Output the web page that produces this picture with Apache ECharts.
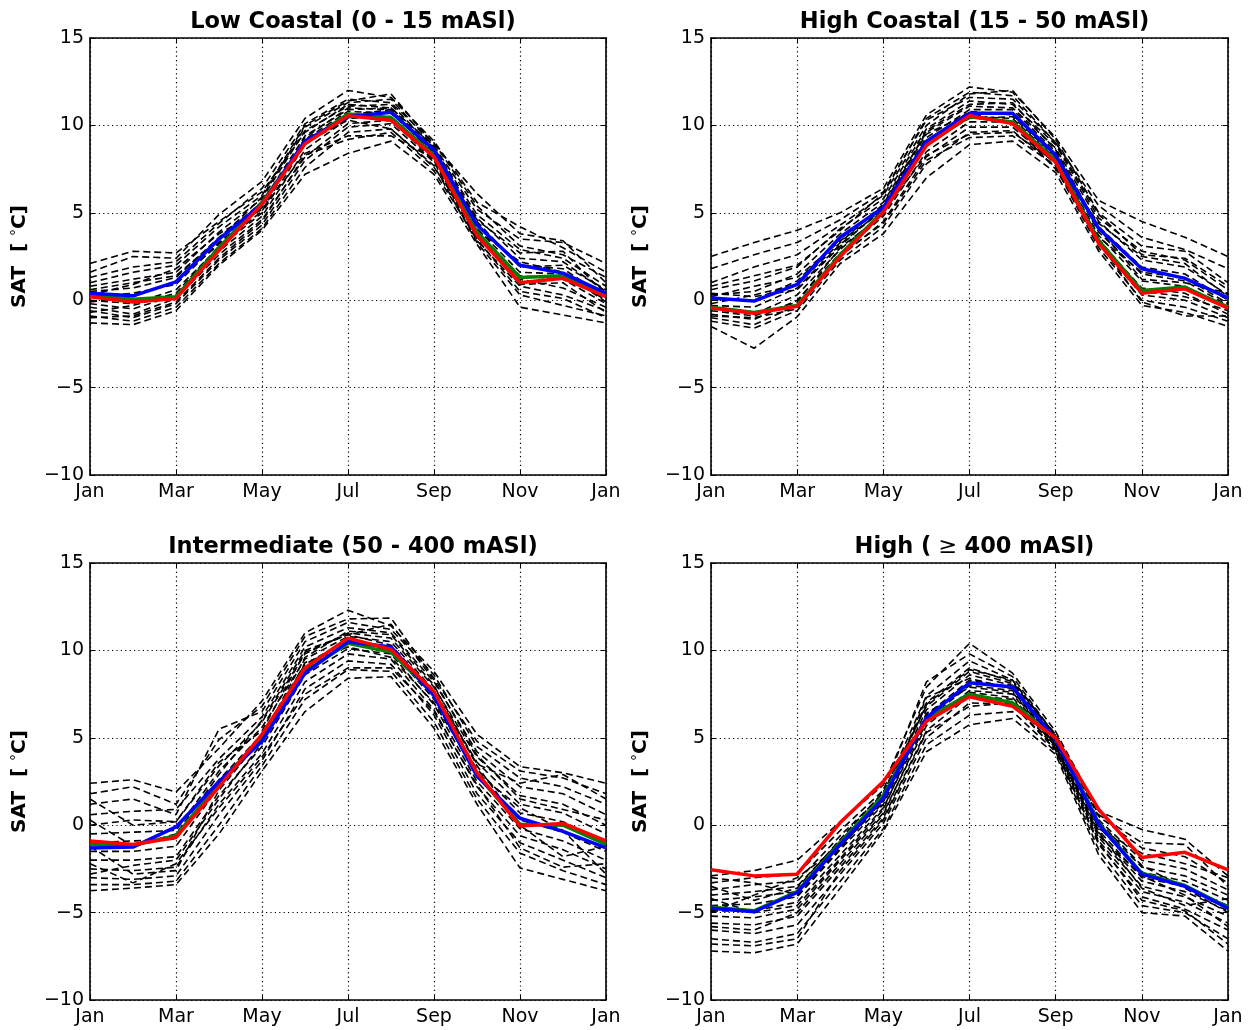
<!DOCTYPE html>
<html>
<head>
<meta charset="utf-8">
<script src="https://cdn.jsdelivr.net/npm/echarts@6/dist/echarts.min.js"></script>
<style>
  html, body { margin: 0; padding: 0; background: #ffffff; }
  #chart { width: 1256px; height: 1030px; }
</style>
</head>
<body>
<div id="chart"></div>
<script>
// Month labels for the annual cycle (January repeated to close the year)
const MONTHS = ['Jan', 'Feb', 'Mar', 'Apr', 'May', 'Jun', 'Jul', 'Aug', 'Sep', 'Oct', 'Nov', 'Dec', 'Jan'];
const Y_MIN = -10, Y_MAX = 15, Y_STEP = 5;

const PANEL_TITLES = [
  'Low Coastal (0 - 15 mASl)',
  'High Coastal (15 - 50 mASl)',
  'Intermediate (50 - 400 mASl)',
  'High ( ≥ 400 mASl)'
];

// ---------- Low Coastal (0 - 15 mASl) ----------
const lowCoastalMembers = [
  [2.1, 2.8, 2.7, 4.5, 6.2, 9.6, 11.2, 11.0, 8.8, 5.2, 3.5, 3.3, 2.1],
  [1.6, 2.5, 2.4, 4.9, 6.8, 10.4, 12.0, 11.6, 9.1, 5.6, 4.2, 3.0, 1.6],
  [1.0, 1.6, 2.0, 4.2, 6.0, 10.0, 11.4, 11.8, 8.9, 6.1, 3.8, 3.4, 1.0],
  [0.8, 1.2, 1.6, 3.9, 5.8, 9.7, 11.1, 11.2, 8.7, 4.9, 2.9, 2.4, 0.8],
  [0.5, 0.7, 1.3, 3.6, 5.6, 9.4, 10.9, 11.0, 8.6, 4.7, 2.4, 2.2, 0.5],
  [0.2, 0.4, 0.9, 3.3, 5.3, 9.2, 10.8, 10.7, 8.5, 4.4, 2.0, 1.8, 0.2],
  [0.0, -0.2, 0.6, 3.0, 5.0, 8.9, 10.6, 10.9, 8.3, 4.1, 1.6, 1.5, 0.0],
  [-0.2, -0.5, 0.3, 2.8, 4.8, 8.6, 10.4, 10.5, 8.2, 3.9, 1.4, 1.2, -0.2],
  [-0.4, -0.8, 0.1, 2.6, 4.6, 8.2, 10.1, 10.3, 8.0, 3.6, 1.2, 0.7, -0.4],
  [-0.6, -1.0, -0.2, 2.3, 4.3, 8.0, 9.9, 10.1, 7.9, 3.4, 0.8, 0.3, -0.6],
  [-0.9, -1.2, -0.4, 2.1, 4.1, 7.6, 9.6, 9.8, 7.7, 3.3, 0.3, -0.3, -0.9],
  [-1.3, -1.4, -0.6, 2.0, 4.0, 7.2, 8.4, 9.1, 7.2, 3.2, -0.4, -0.85, -1.3],
  [0.3, 0.9, 1.8, 3.8, 5.2, 8.4, 9.4, 9.4, 8.1, 4.6, 2.7, 2.8, 0.3],
  [-0.1, 0.2, 1.1, 3.2, 5.5, 9.0, 10.3, 9.8, 7.6, 4.0, 2.2, 1.6, -0.1],
  [1.3, 1.9, 2.2, 4.4, 6.4, 10.1, 11.5, 11.3, 9.0, 5.4, 3.1, 2.6, 1.3],
  [-0.7, -0.3, 0.4, 3.1, 5.1, 9.3, 11.0, 10.9, 8.4, 3.7, 0.9, 1.0, -0.7],
  [0.6, 1.0, 1.4, 3.5, 5.9, 9.9, 11.3, 11.5, 8.8, 4.5, 1.9, 2.0, 0.6],
  [-1.0, -0.9, -0.1, 2.4, 4.5, 8.3, 9.2, 9.6, 7.4, 3.5, 0.5, 0.1, -1.0]
];
const lowCoastalGreen = [0.3, 0.05, 0.2, 3.0, 5.6, 9.0, 10.65, 10.45, 8.3, 3.9, 1.3, 1.4, 0.3];
const lowCoastalBlue  = [0.4, 0.25, 1.05, 3.5, 5.5, 9.1, 10.5, 10.75, 8.6, 4.3, 2.0, 1.55, 0.4];
const lowCoastalRed   = [0.2, -0.1, 0.1, 2.85, 5.5, 8.95, 10.55, 10.3, 8.2, 3.7, 1.0, 1.25, 0.2];

// ---------- High Coastal (15 - 50 mASl) ----------
const highCoastalMembers = [
  [2.5, 3.3, 4.0, 5.0, 6.4, 10.6, 12.2, 11.9, 9.3, 5.7, 4.5, 3.6, 2.5],
  [1.8, 2.6, 3.3, 4.6, 6.2, 10.3, 11.6, 11.5, 9.0, 5.4, 3.6, 2.9, 1.8],
  [1.0, 1.9, 2.6, 4.3, 6.0, 10.0, 11.8, 12.0, 9.2, 5.0, 3.1, 2.8, 1.0],
  [0.6, 1.1, 1.9, 4.1, 5.8, 9.8, 11.4, 11.2, 8.9, 4.7, 2.8, 2.3, 0.6],
  [0.3, 0.5, 1.5, 3.8, 5.6, 9.6, 11.1, 11.0, 8.7, 4.5, 2.3, 1.9, 0.3],
  [0.0, 0.0, 1.1, 3.5, 5.4, 9.3, 10.9, 10.9, 8.5, 4.2, 1.9, 1.5, 0.0],
  [-0.3, -0.4, 0.7, 3.2, 5.2, 9.1, 10.8, 10.6, 8.3, 3.9, 1.5, 1.1, -0.3],
  [-0.5, -0.8, 0.3, 2.9, 5.0, 8.8, 10.5, 10.4, 8.1, 3.7, 1.1, 0.8, -0.5],
  [-0.8, -1.1, 0.0, 2.7, 4.8, 8.5, 10.2, 10.2, 8.0, 3.4, 0.7, 0.4, -0.8],
  [-1.0, -1.4, -0.3, 2.5, 4.5, 8.2, 9.9, 9.9, 7.8, 3.2, 0.3, 0.0, -1.0],
  [-1.2, -1.6, -0.6, 2.3, 4.2, 7.8, 9.6, 9.7, 7.6, 3.0, 0.0, -0.4, -1.2],
  [-1.5, -2.75, -0.95, 2.1, 3.8, 7.0, 8.9, 9.1, 7.3, 2.8, -0.3, -0.7, -1.5],
  [0.2, 0.8, 1.3, 3.4, 5.1, 8.3, 9.5, 9.6, 7.9, 4.4, 2.5, 2.1, 0.2],
  [-0.2, 0.3, 0.9, 3.3, 5.5, 9.5, 10.7, 10.1, 7.5, 3.6, 1.6, 1.3, -0.2],
  [0.8, 1.4, 2.0, 4.0, 6.1, 10.4, 11.9, 11.7, 9.0, 4.9, 2.6, 2.4, 0.8],
  [-0.6, -0.9, -0.1, 3.0, 4.9, 9.0, 10.4, 10.5, 8.2, 3.5, 0.5, 0.2, -0.6],
  [0.4, 0.2, 0.6, 3.1, 5.3, 9.7, 11.2, 11.3, 8.6, 4.1, 1.2, 1.0, 0.4],
  [-0.9, -1.0, -0.5, 2.6, 4.4, 8.0, 9.3, 9.4, 7.7, 3.3, -0.1, -0.9, -0.9]
];
const highCoastalGreen = [-0.4, -0.7, -0.3, 2.6, 5.1, 8.95, 10.5, 10.2, 8.0, 3.4, 0.55, 0.75, -0.4];
const highCoastalBlue  = [0.13, -0.05, 0.9, 3.6, 5.3, 9.1, 10.7, 10.7, 8.3, 4.1, 1.8, 1.25, 0.13];
const highCoastalRed   = [-0.45, -0.75, -0.35, 2.5, 5.05, 8.85, 10.55, 10.1, 7.9, 3.25, 0.4, 0.65, -0.45];

// ---------- Intermediate (50 - 400 mASl) ----------
const intermediateMembers = [
  [2.4, 2.6, 1.9, 4.4, 7.1, 11.0, 12.3, 11.4, 8.8, 5.2, 3.35, 3.0, 2.4],
  [1.8, 2.2, 1.2, 4.9, 6.8, 10.8, 11.8, 11.85, 8.4, 4.8, 3.1, 2.7, 1.8],
  [1.2, 1.5, 0.6, 5.5, 6.5, 10.5, 11.6, 11.2, 8.6, 4.5, 2.7, 2.2, 1.2],
  [0.6, 0.8, 0.9, 3.8, 6.2, 10.2, 11.3, 11.0, 8.2, 4.2, 2.2, 1.8, 0.6],
  [0.0, 0.3, 0.2, 3.4, 5.9, 9.8, 11.0, 10.7, 7.9, 3.9, 1.7, 1.2, 0.0],
  [-0.5, -0.4, -0.3, 3.1, 5.6, 9.5, 10.8, 10.5, 7.7, 3.6, 1.2, 0.7, -0.5],
  [-1.0, -0.9, -0.8, 2.6, 5.2, 9.2, 10.6, 10.2, 7.4, 3.2, 0.7, 0.2, -1.0],
  [-1.5, -1.5, -1.2, 2.2, 4.9, 8.9, 10.4, 10.0, 7.2, 2.8, 0.3, -0.4, -1.5],
  [-2.0, -2.0, -1.8, 1.7, 4.5, 8.6, 10.1, 9.8, 6.9, 2.5, -0.2, -0.9, -2.0],
  [-2.5, -2.6, -2.4, 1.2, 4.1, 8.2, 9.8, 9.5, 6.6, 2.2, -0.6, -1.4, -2.5],
  [-3.0, -3.1, -2.9, 0.6, 3.7, 7.8, 9.4, 9.2, 6.3, 1.8, -1.0, -2.0, -3.0],
  [-3.4, -3.4, -3.2, 0.0, 3.4, 7.2, 8.9, 8.8, 5.9, 1.5, -1.6, -2.6, -3.4],
  [-3.75, -3.6, -3.4, -0.5, 3.1, 6.5, 8.4, 8.5, 5.55, 1.2, -2.45, -3.1, -3.75],
  [-2.8, -2.3, -2.0, 1.5, 4.7, 9.3, 10.2, 9.6, 7.0, 3.0, 1.0, -0.3, -2.8],
  [-1.2, -2.8, -2.6, 2.0, 5.0, 9.6, 11.1, 10.9, 8.0, 3.4, 0.0, -1.8, -1.2],
  [0.3, -1.2, -0.5, 2.9, 6.0, 10.0, 10.9, 11.5, 8.3, 4.0, 1.5, 0.9, 0.3],
  [-2.2, -3.3, -2.2, 1.0, 3.9, 7.5, 9.0, 9.0, 6.5, 2.3, -1.3, -2.4, -2.2],
  [1.5, 0.0, 0.2, 3.6, 5.4, 9.9, 10.9, 10.3, 7.6, 3.5, 2.4, 2.9, 1.5]
];
const intermediateGreen = [-1.1, -1.15, -0.6, 2.4, 5.0, 8.8, 10.4, 9.9, 7.5, 2.9, 0.05, 0.0, -1.1];
const intermediateBlue  = [-1.3, -1.25, -0.1, 2.5, 4.8, 8.7, 10.5, 10.2, 7.4, 2.8, 0.4, -0.35, -1.3];
const intermediateRed   = [-0.9, -1.1, -0.7, 2.2, 5.2, 9.0, 10.7, 10.05, 7.65, 3.0, -0.05, 0.1, -0.9];

// ---------- High (>= 400 mASl) ----------
const highMembers = [
  [-2.9, -2.6, -2.0, 0.2, 2.3, 7.9, 10.4, 8.7, 5.35, 0.8, -0.25, -0.8, -2.9],
  [-3.3, -3.0, -2.8, -0.3, 2.0, 8.2, 9.8, 8.5, 5.1, 0.5, -1.3, -1.8, -3.3],
  [-3.7, -3.4, -3.2, -0.6, 1.8, 7.4, 9.4, 8.3, 5.0, 0.3, -2.0, -2.5, -3.7],
  [-4.0, -3.8, -3.5, -0.9, 1.6, 7.0, 9.0, 8.2, 4.9, 0.1, -2.4, -2.9, -4.0],
  [-4.3, -4.1, -3.8, -1.1, 1.4, 6.6, 8.6, 8.0, 4.8, -0.1, -2.7, -3.2, -4.3],
  [-4.6, -4.5, -4.1, -1.4, 1.2, 6.3, 8.3, 7.9, 4.7, -0.3, -3.0, -3.5, -4.6],
  [-4.9, -4.9, -4.4, -1.7, 1.0, 6.0, 8.0, 7.7, 4.6, -0.5, -3.2, -3.8, -4.9],
  [-5.2, -5.3, -4.8, -2.0, 0.7, 5.7, 7.7, 7.5, 4.5, -0.7, -3.5, -4.1, -5.2],
  [-5.6, -5.7, -5.2, -2.4, 0.4, 5.4, 7.4, 7.2, 4.4, -0.9, -3.8, -4.4, -5.6],
  [-6.0, -6.2, -5.7, -2.8, 0.1, 5.0, 7.0, 6.9, 4.3, -1.1, -4.1, -4.8, -6.0],
  [-6.5, -6.7, -6.2, -3.2, -0.2, 4.6, 6.3, 6.5, 4.2, -1.4, -4.6, -5.0, -6.5],
  [-7.2, -7.3, -6.8, -3.6, -0.35, 4.2, 5.75, 6.1, 4.05, -1.7, -5.0, -5.2, -7.2],
  [-3.5, -4.3, -3.6, -0.8, 1.9, 6.8, 8.8, 8.1, 5.2, 0.6, -1.0, -1.1, -3.5],
  [-5.0, -4.0, -3.0, -1.2, 1.3, 7.3, 8.4, 7.8, 4.7, 0.2, -2.3, -3.6, -5.0],
  [-4.2, -5.0, -4.6, -1.9, 0.9, 6.4, 7.9, 7.6, 4.6, -0.4, -3.6, -4.6, -4.2],
  [-5.8, -6.0, -5.0, -2.2, 0.6, 5.9, 7.6, 7.3, 4.5, -0.6, -2.9, -4.0, -5.8],
  [-3.0, -3.3, -4.0, -1.3, 1.5, 6.9, 8.9, 8.3, 5.1, -0.2, -1.6, -2.2, -3.0],
  [-6.8, -6.9, -6.5, -2.6, 0.3, 5.3, 6.8, 7.0, 4.3, -1.0, -4.3, -4.9, -6.8]
];
const highGreen = [-4.7, -4.9, -3.8, -1.0, 1.7, 6.1, 7.5, 7.0, 5.0, 0.1, -2.75, -3.45, -4.7];
const highBlue  = [-4.75, -4.95, -3.85, -1.1, 1.55, 6.15, 8.15, 7.9, 4.9, 0.05, -2.8, -3.5, -4.75];
const highRed   = [-2.55, -2.9, -2.8, 0.15, 2.5, 5.95, 7.35, 6.8, 5.0, 0.9, -1.85, -1.55, -2.55];

const PANELS = [
  { members: lowCoastalMembers,   green: lowCoastalGreen,   blue: lowCoastalBlue,   red: lowCoastalRed },
  { members: highCoastalMembers,  green: highCoastalGreen,  blue: highCoastalBlue,  red: highCoastalRed },
  { members: intermediateMembers, green: intermediateGreen, blue: intermediateBlue, red: intermediateRed },
  { members: highMembers,         green: highGreen,         blue: highBlue,         red: highRed }
];

// Plot-area geometry of the 2x2 layout
const GRIDS = [
  { left: 90,  top: 38,  width: 516, height: 437 },
  { left: 711, top: 38,  width: 517, height: 437 },
  { left: 90,  top: 563, width: 516, height: 437 },
  { left: 711, top: 563, width: 517, height: 437 }
];

const FONT = 'DejaVu Sans';
const minus = v => (v < 0 ? '\u2212' + Math.abs(v) : String(v));
const toPoints = arr => arr.map((v, i) => [i, v]);

const option = {
  backgroundColor: '#ffffff',
  animation: false,
  textStyle: { fontFamily: FONT },
  title: [],
  grid: [],
  xAxis: [],
  yAxis: [],
  series: []
};

const frameLine = { show: true, onZero: false, lineStyle: { color: '#000', width: 1.6 } };
const tickStyle = { show: true, inside: true, length: 5, lineStyle: { color: '#000', width: 1 } };
const gridDots = { show: true, lineStyle: { color: '#000', width: 1.2, type: [1.2, 3.2] } };

GRIDS.forEach((g, k) => {
  option.grid.push({ left: g.left, top: g.top, width: g.width, height: g.height, containLabel: false });

  // panel title
  const isHigh = k === 3;
  option.title.push({
    text: isHigh ? '{b|High (}{m| ≥ }{b|400 mASl)}' : PANEL_TITLES[k],
    left: g.left + g.width / 2,
    top: g.top - 32,
    textAlign: 'center',
    textStyle: {
      fontFamily: FONT, fontSize: 22.5, fontWeight: 'bold', color: '#000',
      rich: {
        b: { fontFamily: FONT, fontSize: 22.5, fontWeight: 'bold', color: '#000' },
        m: { fontFamily: FONT, fontSize: 22.5, fontWeight: 'normal', color: '#000' }
      }
    }
  });

  // bottom month axis
  option.xAxis.push({
    type: 'value', gridIndex: k, min: 0, max: 12, interval: 2,
    axisLine: frameLine,
    axisTick: tickStyle,
    axisLabel: {
      show: true, margin: 8, color: '#000', fontFamily: FONT, fontSize: 19,
      showMinLabel: true, showMaxLabel: true,
      formatter: v => MONTHS[v]
    },
    splitLine: gridDots
  });
  // top frame with ticks
  option.xAxis.push({
    type: 'value', gridIndex: k, position: 'top', min: 0, max: 12, interval: 2,
    axisLine: frameLine,
    axisTick: tickStyle, axisLabel: { show: false }, splitLine: { show: false }
  });
  // left temperature axis
  option.yAxis.push({
    type: 'value', gridIndex: k, min: Y_MIN, max: Y_MAX, interval: Y_STEP,
    name: '{b|SAT  [ }{s|°}{b|C]}', nameLocation: 'middle', nameGap: 60, nameRotate: 90,
    nameTextStyle: {
      fontFamily: FONT, fontSize: 20, fontWeight: 'bold', color: '#000',
      rich: {
        b: { fontFamily: FONT, fontSize: 20, fontWeight: 'bold', color: '#000' },
        s: { fontFamily: FONT, fontSize: 14, fontWeight: 'normal', color: '#000', verticalAlign: 'top', lineHeight: 20 }
      }
    },
    axisLine: frameLine,
    axisTick: tickStyle,
    axisLabel: {
      show: true, margin: 6, color: '#000', fontFamily: FONT, fontSize: 19,
      showMinLabel: true, showMaxLabel: true, formatter: minus
    },
    splitLine: gridDots
  });
  // right frame with ticks
  option.yAxis.push({
    type: 'value', gridIndex: k, position: 'right', min: Y_MIN, max: Y_MAX, interval: Y_STEP,
    axisLine: frameLine,
    axisTick: tickStyle, axisLabel: { show: false }, splitLine: { show: false }
  });

  const xi = k * 2, yi = k * 2;
  const p = PANELS[k];

  // ensemble members, dashed
  p.members.forEach(m => {
    option.series.push({
      type: 'line', xAxisIndex: xi, yAxisIndex: yi, data: toPoints(m),
      showSymbol: false, silent: true, z: 2,
      lineStyle: { color: '#000', width: 1.6, type: [7, 4] }
    });
  });
  // solid summary curves
  [[p.green, '#008000'], [p.blue, '#0000ff'], [p.red, '#ff0000']].forEach(([d, c], j) => {
    option.series.push({
      type: 'line', xAxisIndex: xi, yAxisIndex: yi, data: toPoints(d),
      showSymbol: false, silent: true, z: 3 + j,
      lineStyle: { color: c, width: 3.5, type: 'solid' }
    });
  });
});

const chart = echarts.init(document.getElementById('chart'), null, { renderer: 'canvas' });
chart.setOption(option);
</script>
</body>
</html>
